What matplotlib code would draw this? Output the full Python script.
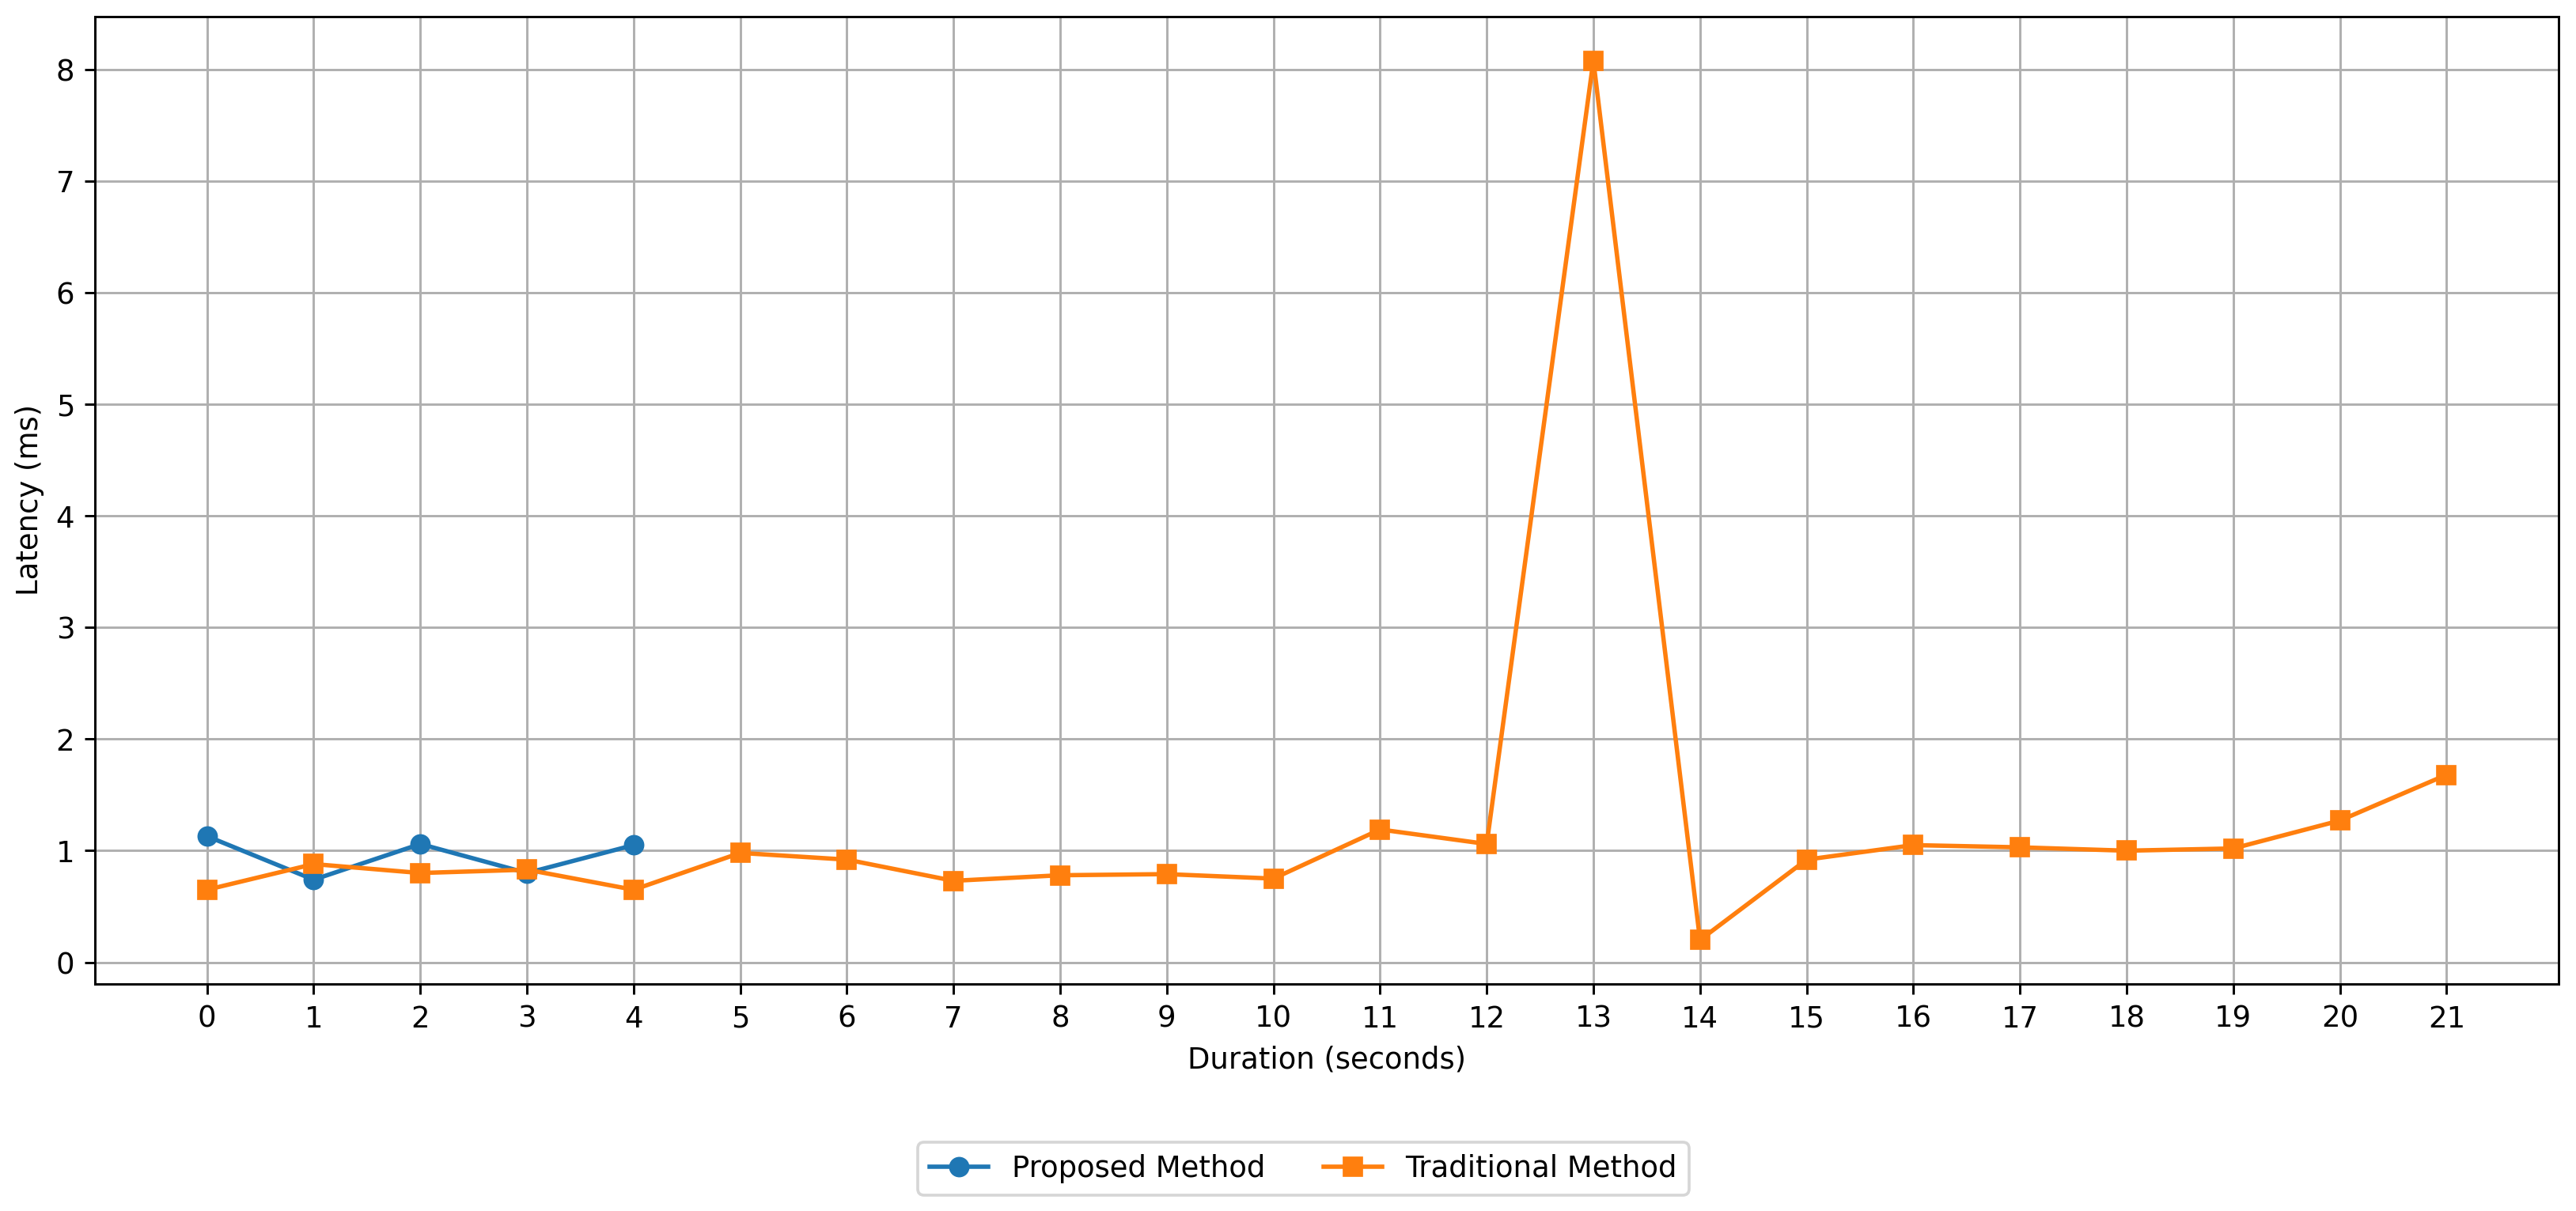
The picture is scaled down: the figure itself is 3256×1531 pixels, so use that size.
import matplotlib
matplotlib.use("Agg")
import matplotlib.pyplot as plt

durations_proposed = [0, 1, 2, 3, 4]
latency_proposed = [1.13, 0.74, 1.06, 0.80, 1.05]

durations_traditional = list(range(22))
latency_traditional = [0.65, 0.88, 0.80, 0.83, 0.65, 0.98, 0.92, 0.73, 0.78, 0.79,
                       0.75, 1.19, 1.06, 8.08, 0.20, 0.92, 1.05, 1.03, 1.00, 1.02,
                       1.27, 1.68]

DPI = 266
fig = plt.figure(figsize=(3256 / DPI, 1531 / DPI), dpi=DPI)
ax = fig.add_axes([0.0369, 0.1875, 0.9563, 0.7988])
ax.plot(durations_proposed, latency_proposed, marker='o', color='#1f77b4',
        label='Proposed Method')
ax.plot(durations_traditional, latency_traditional, marker='s', color='#ff7f0e',
        label='Traditional Method')
ax.set_xticks(durations_traditional)
ax.grid(True)
ax.set_xlabel('Duration (seconds)')
ax.set_ylabel('Latency (ms)')
fig.legend(loc='center', bbox_to_anchor=(0.506, 0.035), ncol=2)
fig.savefig('out.png', dpi=DPI)
